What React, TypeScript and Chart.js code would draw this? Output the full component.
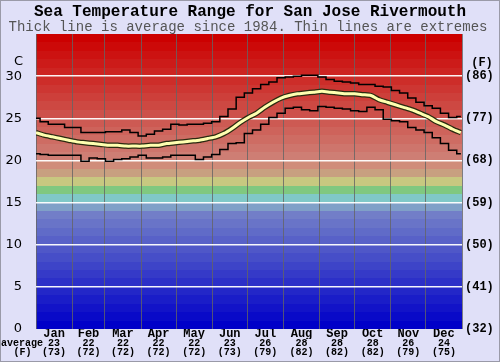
import React, { useEffect, useRef } from 'react';
import { Chart, registerables } from 'chart.js';

Chart.register(...registerables);

const TITLE = 'Sea Temperature Range for San Jose Rivermouth';
const SUBTITLE = 'Thick line is average since 1984. Thin lines are extremes';

const MONTHS = ['Jan', 'Feb', 'Mar', 'Apr', 'May', 'Jun', 'Jul', 'Aug', 'Sep', 'Oct', 'Nov', 'Dec'];
const MONTH_AVG_C = [23, 22, 22, 22, 22, 23, 26, 28, 28, 28, 26, 24];
const MONTH_AVG_F = [73, 72, 72, 72, 72, 73, 79, 82, 82, 82, 79, 75];
const MONTH_START_DAYS = [0, 31, 59, 90, 120, 151, 181, 212, 243, 273, 304, 334, 365];
const Y_TICKS_C = [0, 5, 10, 15, 20, 25, 30, 35];

const SAMPLE_DAYS = [
  0, 7, 14, 21, 28, 35, 42, 49, 56, 63, 70, 77, 84, 91, 98, 105, 112, 119, 126, 133,
  140, 147, 154, 161, 168, 175, 182, 189, 196, 203, 210, 217, 224, 231, 238, 245, 252,
  259, 266, 273, 280, 287, 294, 301, 308, 315, 322, 329, 336, 343, 350, 357, 364,
];

const MAX_C = [
  25.0, 24.6, 24.3, 24.3, 23.9, 23.9, 23.3, 23.3, 23.3, 23.4, 23.4, 23.6, 23.3, 22.9, 23.1,
  23.5, 23.7, 24.3, 24.2, 24.3, 24.3, 24.4, 24.6, 25.2, 26.1, 27.5, 28.0, 28.5, 29.0, 29.3,
  29.8, 29.9, 30.0, 30.1, 30.1, 29.9, 29.6, 29.4, 29.3, 29.2, 29.0, 29.0, 28.8, 28.7, 28.3,
  28.0, 27.4, 26.9, 26.5, 26.2, 25.6, 25.1, 25.2,
];

const MIN_C = [
  20.8, 20.7, 20.6, 20.6, 20.6, 20.6, 19.9, 20.3, 20.2, 19.9, 20.1, 20.2, 20.4, 20.6, 20.3,
  20.3, 20.4, 20.6, 20.6, 20.6, 20.1, 20.4, 20.7, 21.3, 22.0, 22.1, 23.2, 23.6, 24.3, 25.1,
  25.6, 26.2, 26.3, 26.0, 25.9, 26.4, 26.3, 26.2, 26.1, 25.9, 25.8, 26.3, 26.0, 24.9, 24.7,
  24.6, 23.9, 23.6, 23.3, 22.7, 22.0, 21.2, 20.8,
];

const AVG_C = [
  23.3, 23.0, 22.8, 22.6, 22.4, 22.2, 22.1, 22.0, 21.9, 21.8, 21.8, 21.7, 21.7, 21.7, 21.8,
  21.8, 22.0, 22.1, 22.2, 22.3, 22.4, 22.6, 22.8, 23.2, 23.8, 24.5, 25.1, 25.6, 26.3, 26.9,
  27.4, 27.7, 27.9, 28.0, 28.1, 28.2, 28.1, 28.0, 27.9, 27.9, 27.8, 27.7, 27.2, 26.9, 26.6,
  26.3, 26.0, 25.6, 25.2, 24.6, 24.2, 23.7, 23.3,
];

const PAGE_BG = 'rgb(224,224,248)';
const MONO = '"Liberation Mono", "DejaVu Sans Mono", monospace';
const SANS = '"DejaVu Sans", Verdana, sans-serif';

function mix(a: number, b: number, f: number) {
  return Math.round(a + (b - a) * f);
}

function bandColor(t: number): string {
  if (t <= 13) {
    const f = t / 13;
    return `rgb(${mix(0, 114, f)},${mix(0, 126, f)},200)`;
  }
  if (t === 14) return 'rgb(128,160,200)';
  if (t === 15) return 'rgb(128,200,200)';
  if (t === 16) return 'rgb(128,200,128)';
  if (t === 17) return 'rgb(200,200,128)';
  if (t === 18) return 'rgb(200,160,128)';
  if (t === 19) return 'rgb(208,140,122)';
  const f = Math.min(1, (t - 20) / 14);
  return `rgb(${mix(206, 204, f)},${mix(126, 0, f)},${mix(116, 0, f)})`;
}

const xy = (vals: number[]) => SAMPLE_DAYS.map((d, i) => ({ x: d, y: vals[i] }));

const monthMids = MONTHS.map((_, i) => (MONTH_START_DAYS[i] + MONTH_START_DAYS[i + 1]) / 2);

const xTickValues: number[] = [];
MONTH_START_DAYS.forEach((d, i) => {
  xTickValues.push(d);
  if (i < MONTHS.length) xTickValues.push(monthMids[i]);
});

const decorPlugin = {
  id: 'decor',
  beforeDraw(chart: any) {
    const { ctx, chartArea, scales } = chart;
    const { left, right } = chartArea;
    const y = scales.y;
    ctx.save();
    ctx.fillStyle = PAGE_BG;
    ctx.fillRect(0, 0, chart.width, chart.height);
    for (let t = 0; t < 35; t++) {
      const y0 = Math.round(y.getPixelForValue(t + 1));
      const y1 = Math.round(y.getPixelForValue(t));
      ctx.fillStyle = bandColor(t);
      ctx.fillRect(left, y0, right - left, y1 - y0);
    }
    ctx.strokeStyle = '#9a9aa8';
    ctx.lineWidth = 1;
    ctx.strokeRect(0.5, 0.5, chart.width - 1, chart.height - 1);
    ctx.restore();
  },
  afterDraw(chart: any) {
    const { ctx } = chart;
    ctx.save();
    ctx.textAlign = 'center';
    ctx.textBaseline = 'alphabetic';
    ctx.fillStyle = '#000';
    ctx.font = `bold 16px ${MONO}`;
    ctx.fillText(TITLE, 250, 16);
    ctx.fillStyle = '#555';
    ctx.font = `14px ${MONO}`;
    ctx.fillText(SUBTITLE, 248, 30.5);

    ctx.textBaseline = 'middle';
    ctx.fillStyle = '#000';
    ctx.font = `13px ${SANS}`;
    ctx.fillText('C', 18.5, 61.5);
    ctx.font = `bold 12px ${MONO}`;
    ctx.fillText('(F)', 482, 62.5);
    ctx.font = `bold 10px ${MONO}`;
    ctx.fillText('average', 22, 343.5);
    ctx.fillText('(F)', 22.5, 352.5);
    ctx.restore();
  },
};

export default function App() {
  const canvasRef = useRef<HTMLCanvasElement | null>(null);

  useEffect(() => {
    const canvas = canvasRef.current;
    if (!canvas) return;
    const chart = new Chart(canvas, {
      type: 'line',
      data: {
        datasets: [
          {
            label: 'Average',
            data: xy(AVG_C),
            borderColor: '#ffffb0',
            borderWidth: 3,
            pointRadius: 0,
            tension: 0.2,
            fill: false,
          },
          {
            label: 'Average outline',
            data: xy(AVG_C),
            borderColor: '#2a2a10',
            borderWidth: 5.5,
            pointRadius: 0,
            tension: 0.2,
            fill: false,
          },
          {
            label: 'Maximum',
            data: xy(MAX_C),
            borderColor: '#000',
            borderWidth: 1.5,
            pointRadius: 0,
            stepped: 'middle',
            fill: false,
          },
          {
            label: 'Minimum',
            data: xy(MIN_C),
            borderColor: '#000',
            borderWidth: 1.5,
            pointRadius: 0,
            stepped: 'middle',
            fill: false,
          },
        ],
      },
      options: {
        animation: false,
        responsive: false,
        devicePixelRatio: 1,
        layout: { padding: { top: 34, left: 0, right: 0, bottom: 0 } },
        plugins: {
          legend: { display: false },
          tooltip: { enabled: false },
          title: { display: false },
        },
        events: [],
        scales: {
          x: {
            type: 'linear',
            position: 'bottom',
            min: 0,
            max: 365,
            weight: 0,
            afterBuildTicks: (s: any) => {
              s.ticks = xTickValues.map((v) => ({ value: v }));
            },
            afterFit: (s: any) => {
              s.height = 10;
            },
            border: { display: false },
            grid: {
              drawTicks: false,
              color: (c: any) => (c.index % 2 === 0 ? 'rgba(100,100,100,0.8)' : 'rgba(0,0,0,0)'),
              lineWidth: 1,
            },
            ticks: {
              autoSkip: false,
              maxRotation: 0,
              minRotation: 0,
              padding: 0,
              color: '#000',
              font: { family: MONO, size: 12, weight: 'bold', lineHeight: '9px' },
              callback: (_v: any, i: number) => (i % 2 === 1 ? MONTHS[(i - 1) / 2] : ''),
            },
          },
          x2: {
            type: 'linear',
            position: 'bottom',
            min: 0,
            max: 365,
            weight: 1,
            afterBuildTicks: (s: any) => {
              s.ticks = monthMids.map((v) => ({ value: v }));
            },
            afterFit: (s: any) => {
              s.height = 23;
            },
            border: { display: false },
            grid: { display: false, drawTicks: false },
            ticks: {
              autoSkip: false,
              maxRotation: 0,
              minRotation: 0,
              padding: 0,
              color: '#000',
              font: { family: MONO, size: 10, weight: 'bold', lineHeight: '9px' },
              callback: (_v: any, i: number) => [String(MONTH_AVG_C[i]), `(${MONTH_AVG_F[i]})`],
            },
          },
          y: {
            type: 'linear',
            position: 'left',
            min: 0,
            max: 35,
            afterBuildTicks: (s: any) => {
              s.ticks = Y_TICKS_C.map((v) => ({ value: v }));
            },
            afterFit: (s: any) => {
              s.width = 36;
            },
            border: { display: false },
            grid: {
              drawTicks: false,
              color: (c: any) =>
                c.tick && c.tick.value > 0 && c.tick.value < 35 ? 'rgba(255,255,255,0.95)' : 'rgba(0,0,0,0)',
              lineWidth: 1.5,
            },
            ticks: {
              padding: 14,
              color: '#000',
              font: { family: SANS, size: 13 },
              callback: (v: any) => (v >= 35 ? '' : String(v)),
            },
          },
          y2: {
            type: 'linear',
            position: 'right',
            min: 0,
            max: 35,
            afterBuildTicks: (s: any) => {
              s.ticks = Y_TICKS_C.map((v) => ({ value: v }));
            },
            afterFit: (s: any) => {
              s.width = 38;
            },
            border: { display: false },
            grid: { display: false, drawTicks: false },
            ticks: {
              padding: 3,
              color: '#000',
              font: { family: MONO, size: 12, weight: 'bold' },
              callback: (v: any) => (v >= 35 ? '' : `(${Math.round((v * 9) / 5 + 32)})`),
            },
          },
        },
      } as any,
      plugins: [decorPlugin],
    });
    return () => chart.destroy();
  }, []);

  return (
    <div style={{ position: 'absolute', left: 0, top: 0, width: 500, height: 362 }}>
      <canvas ref={canvasRef} width={500} height={362} style={{ display: 'block', width: 500, height: 362 }} />
    </div>
  );
}
